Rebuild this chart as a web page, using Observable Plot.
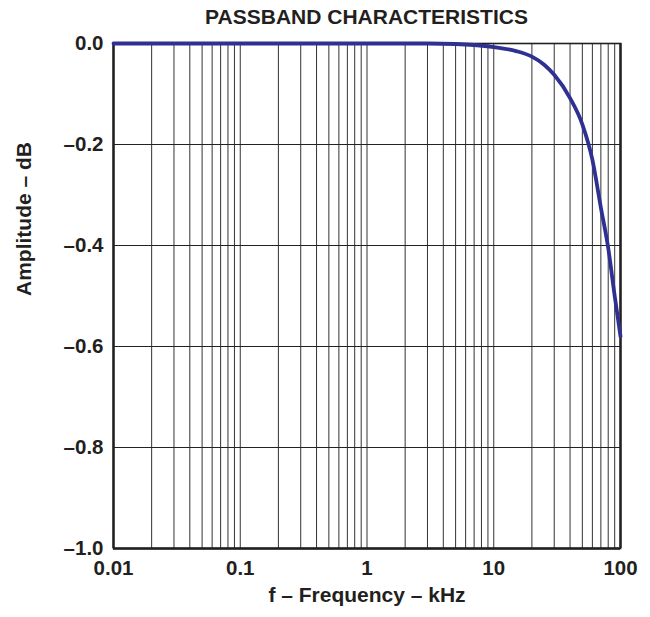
<!DOCTYPE html>
<html>
<head>
<meta charset="utf-8">
<script src="https://cdn.jsdelivr.net/npm/d3@7"></script>
<script src="https://cdn.jsdelivr.net/npm/@observablehq/plot@0.6"></script>
<style>
  html, body { margin: 0; padding: 0; background: #fff; }
  #title {
    width: 650px; height: 34px; line-height: 34px;
    font-family: "Liberation Sans", Arial, sans-serif; font-weight: bold;
    font-size: 21px; color: #231f20;
    position: relative;
  }
  #title span { position: absolute; left: 366.5px; transform: translateX(-50%); white-space: nowrap; }
</style>
</head>
<body>
<div id="title"><span>PASSBAND CHARACTERISTICS</span></div>
<div id="chart"></div>
<script>
// ---- data ----
const freqKHz = [0.01, 1, 3, 5, 7, 10, 15, 20, 25, 30, 40, 50, 60, 70, 80, 90, 100];
const amplitudeDB = [0, 0, 0, -0.001, -0.003, -0.007, -0.015, -0.026, -0.042, -0.062, -0.108, -0.16, -0.23, -0.325, -0.405, -0.5, -0.58];

const xTicks = [0.01, 0.1, 1, 10, 100];
const xTickLabels = ["0.01", "0.1", "1", "10", "100"];
const yTicks = [0, -0.2, -0.4, -0.6, -0.8, -1.0];
const yTickLabels = ["0.0", "–0.2", "–0.4", "–0.6", "–0.8", "–1.0"];
const xGrid = [0.02, 0.03, 0.04, 0.05, 0.06, 0.07, 0.08, 0.09, 0.1,
               0.2, 0.3, 0.4, 0.5, 0.6, 0.7, 0.8, 0.9, 1,
               2, 3, 4, 5, 6, 7, 8, 9, 10,
               20, 30, 40, 50, 60, 70, 80, 90];
const yGrid = [-0.2, -0.4, -0.6, -0.8];

const xLabel = "f – Frequency – kHz";
const yLabel = "Amplitude – dB";

const data = freqKHz.map((f, i) => ({f, a: amplitudeDB[i]}));
const xLab = new Map(xTicks.map((t, i) => [t, xTickLabels[i]]));
const yLab = new Map(yTicks.map((t, i) => [t, yTickLabels[i]]));

const ink = "#231f20";

const chart = Plot.plot({
  width: 650,
  height: 583,
  marginLeft: 113,
  marginRight: 30,
  marginTop: 9,
  marginBottom: 69,
  style: {
    fontFamily: "'Liberation Sans', Arial, sans-serif",
    fontWeight: "bold",
    fontSize: "18px",
    color: ink,
    background: "#fff",
    overflow: "visible"
  },
  x: {type: "log", domain: [0.01, 100]},
  y: {domain: [-1, 0]},
  marks: [
    Plot.ruleX(xGrid, {stroke: "#333", strokeWidth: 1}),
    Plot.ruleY(yGrid, {stroke: "#222", strokeWidth: 1}),
    Plot.frame({stroke: ink, strokeWidth: 1.6}),
    Plot.ruleX([0.01, 100], {stroke: ink, strokeWidth: 2.4}),
    Plot.ruleY([-1], {stroke: ink, strokeWidth: 2.4}),
    Plot.axisX(xTicks, {
      tickSize: 0, tickPadding: 12,
      tickFormat: d => xLab.get(d),
      fontSize: 20.5,
      label: null
    }),
    Plot.axisY(yTicks, {
      tickSize: 0, tickPadding: 10,
      tickFormat: d => yLab.get(d),
      fontSize: 20.5,
      label: null
    }),
    Plot.line(data, {x: "f", y: "a", stroke: "#2e3192", strokeWidth: 3.8, curve: "monotone-x"}),
    Plot.text([xLabel], {frameAnchor: "bottom", dy: 53, text: d => d, fontSize: 21, fontWeight: "bold", fill: ink}),
    Plot.text([yLabel], {frameAnchor: "left", dx: -89, rotate: -90, text: d => d, fontSize: 21, fontWeight: "bold", fill: ink})
  ]
});
document.getElementById("chart").appendChild(chart);
</script>
</body>
</html>
